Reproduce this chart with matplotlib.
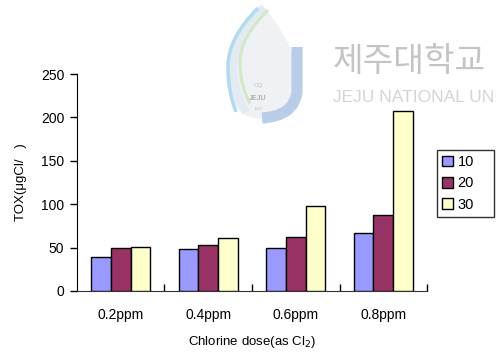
import matplotlib
matplotlib.use("Agg")
import matplotlib.pyplot as plt
from matplotlib.path import Path
from matplotlib.patches import PathPatch
import numpy as np

plt.rcParams['font.family'] = ['Liberation Sans', 'DejaVu Sans']

categories = ["0.2ppm", "0.4ppm", "0.6ppm", "0.8ppm"]
series_names = ["10", "20", "30"]
values_10 = [39, 48, 50, 67]
values_20 = [49, 53, 62, 88]
values_30 = [51, 61, 98, 208]
yticks = [0, 50, 100, 150, 200, 250]

colors = ["#9999FF", "#993366", "#FFFFCC"]

W, H = 496, 353
fig = plt.figure(figsize=(W / 100, H / 100), dpi=100)

# background layer in pixel coordinates for the faint university watermark
bg = fig.add_axes([0, 0, 1, 1], zorder=0)
bg.set_xlim(0, W)
bg.set_ylim(H, 0)
bg.axis("off")

def curve(pts, color, lw, fill=False):
    codes = [Path.MOVETO] + [Path.CURVE3] * (len(pts) - 1)
    if fill:
        bg.add_patch(PathPatch(Path(pts, codes), facecolor=color, edgecolor="none"))
    else:
        bg.add_patch(PathPatch(Path(pts, codes), fill=False, edgecolor=color,
                               lw=lw, capstyle="butt"))

# emblem: pale flame shape, two swirls and the J stroke
curve([(262, 4), (222, 40), (226, 80), (230, 118), (262, 119),
       (300, 118), (300, 90), (300, 50), (262, 4)], "#eff1f4", 0, fill=True)
curve([(264, 8), (238, 34), (234, 58), (230, 86), (246, 112)], "#e2eaf2", 6)
curve([(258, 8), (228, 38), (228, 66), (228, 92), (236, 112)], "#b3daee", 2.5)
curve([(268, 10), (240, 38), (240, 62), (240, 86), (250, 104)], "#d3e8c6", 2.2)
curve([(297, 47), (297, 70), (297, 92), (294, 116), (262, 118)], "#b9cce8", 8)
bg.text(258, 86, "CQ", fontsize=4.5, color="#bfbfbf", ha="center", va="center")
bg.text(258, 99, "JEJU", fontsize=5, color="#b0b0b0", ha="center", va="center",
        fontweight="bold")
bg.text(258, 109, "1952", fontsize=3, color="#c4c4c4", ha="center", va="center")

bg.text(333, 61, "제주대학교", fontsize=24, color="#c4c4c4",
        family=["Noto Sans CJK KR", "DejaVu Sans"], ha="left", va="center")
bg.text(333, 98, "JEJU NATIONAL UNIVERSITY", fontsize=12.5, color="#d4d4d4",
        ha="left", va="center")

ax = fig.add_axes([0.155, 0.176, 0.706, 0.614], zorder=1)
ax.patch.set_alpha(0)

x = np.arange(len(categories))
w = 0.225
for i, (vals, name) in enumerate(zip([values_10, values_20, values_30], series_names)):
    ax.bar(x + (i - 1) * w, vals, w, color=colors[i], edgecolor="black",
           linewidth=1.0, label=name, zorder=3)

ax.set_xlim(-0.5, 3.5)
ax.set_ylim(0, 250)
ax.set_yticks(yticks)
ax.set_xticks(x)
ax.set_xticklabels(categories)
ax.set_xticks(np.arange(0.5, 3.6, 1.0), minor=True)
ax.tick_params(axis="x", which="major", length=0, pad=12, labelsize=10)
ax.tick_params(axis="x", which="minor", length=5, direction="in", width=1)
ax.tick_params(axis="y", length=5, direction="out", width=1, labelsize=10, pad=4)

for s in ["top", "right"]:
    ax.spines[s].set_visible(False)
ax.spines["left"].set_color("black")
ax.spines["bottom"].set_color("#333333")

ax.set_ylabel("TOX(μgCl/   )", fontsize=9.5, labelpad=10)
ax.set_xlabel("Chlorine dose(as Cl$_2$)", fontsize=9.5, labelpad=9)

leg = fig.legend(loc="upper left",
                 bbox_to_anchor=(437 / W, 1 - 214 / H, 57 / W, 64 / H),
                 mode="expand", frameon=True, fancybox=False, fontsize=10.5,
                 handlelength=0.75, handleheight=0.75, handletextpad=0.3,
                 borderpad=0.35, labelspacing=0.5, borderaxespad=0)
leg.get_frame().set_edgecolor("black")
leg.get_frame().set_linewidth(1.0)
leg.set_zorder(2)

fig.savefig("out.png", dpi=100)
